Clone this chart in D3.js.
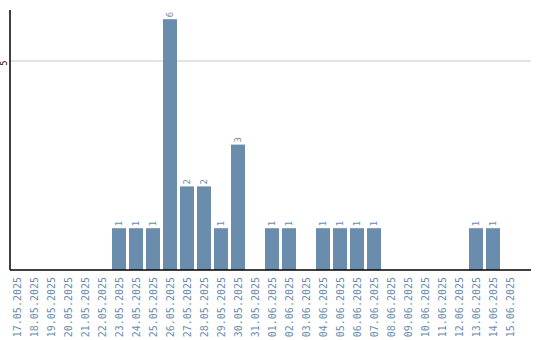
<!DOCTYPE html>
<html><head><meta charset="utf-8">
<script src="https://cdn.jsdelivr.net/npm/d3@7"></script>
<style>body{margin:0;background:#fff}svg{display:block}</style>
</head><body>
<script>
const dates = ["17.05.2025","18.05.2025","19.05.2025","20.05.2025","21.05.2025","22.05.2025","23.05.2025","24.05.2025","25.05.2025","26.05.2025","27.05.2025","28.05.2025","29.05.2025","30.05.2025","31.05.2025","01.06.2025","02.06.2025","03.06.2025","04.06.2025","05.06.2025","06.06.2025","07.06.2025","08.06.2025","09.06.2025","10.06.2025","11.06.2025","12.06.2025","13.06.2025","14.06.2025","15.06.2025"];
const counts = [0,0,0,0,0,0,1,1,1,6,2,2,1,3,0,1,1,0,1,1,1,1,0,0,0,0,0,1,1,0];
const yTicks = [5];

(function(){
const W = 540, H = 340;
const svg = d3.select("body").append("svg").attr("width", W).attr("height", H);
const mL = 10, mR = 531, mT = 10, mB = 270;
const step = 17, pIn = 3/17;
const pOut = ((mR - mL) / step - dates.length + pIn) / 2;
const x = d3.scaleBand().domain(dates).range([mL, mR]).paddingInner(pIn).paddingOuter(pOut).align(0);
const y = d3.scaleLinear().domain([0, 6.22]).range([mB, mT]);
const color = "#6a8cad";

svg.append("g").selectAll("line").data(yTicks).join("line")
  .attr("x1", mL).attr("x2", mR)
  .attr("y1", d => y(d)).attr("y2", d => y(d))
  .attr("stroke", "#c8c8c8").attr("stroke-width", 1);

const items = dates.map((d,i)=>({d, v: counts[i]})).filter(o=>o.v>0);

svg.append("g").selectAll("rect").data(items).join("rect")
  .attr("x", o => x(o.d)).attr("width", x.bandwidth())
  .attr("y", o => y(o.v)).attr("height", o => y(0) - y(o.v))
  .attr("fill", color);

svg.append("g").selectAll("text").data(items).join("text")
  .attr("transform", o => `translate(${x(o.d) + x.bandwidth()/2 + 3},${y(o.v) - 2}) rotate(-90)`)
  .attr("text-anchor", "start")
  .attr("font-family", "DejaVu Sans Mono, monospace").attr("font-size", 9)
  .attr("fill", color).text(o => o.v);

const yAxis = svg.append("g");
yAxis.append("line").attr("x1", mL).attr("x2", mL).attr("y1", mT).attr("y2", mB)
  .attr("stroke", "#000").attr("stroke-width", 1.5);
yAxis.selectAll("text").data(yTicks).join("text")
  .attr("transform", d => `translate(${mL - 3},${y(d) + 2}) rotate(-90)`)
  .attr("text-anchor", "middle")
  .attr("font-family", "DejaVu Sans Mono, monospace").attr("font-size", 8)
  .attr("fill", "#000").text(d => d);

const xAxis = svg.append("g").attr("transform", `translate(0,${mB})`)
  .call(d3.axisBottom(x).tickSize(0).tickPadding(0));
xAxis.select(".domain").remove();
xAxis.append("line").attr("x1", mL).attr("x2", mR).attr("y1", 0).attr("y2", 0)
  .attr("stroke", "#000").attr("stroke-width", 1.5);
xAxis.selectAll(".tick text")
  .attr("transform", "rotate(-90)")
  .attr("text-anchor", "end")
  .attr("x", -7).attr("y", 0).attr("dy", "0.35em")
  .attr("font-family", "DejaVu Sans Mono, monospace").attr("font-size", 10)
  .attr("fill", color);
})();
</script>
</body></html>
